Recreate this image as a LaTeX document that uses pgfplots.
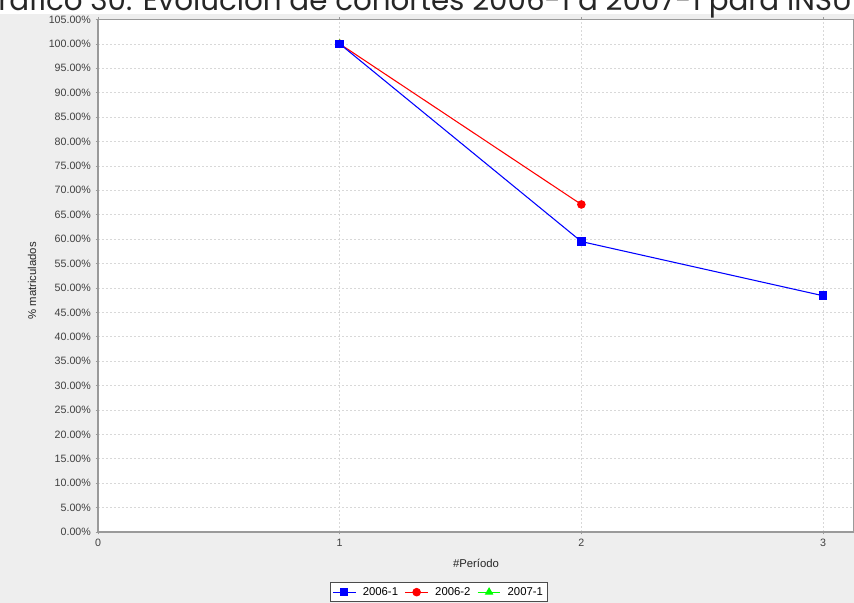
\documentclass[border=0pt]{standalone}
\usepackage{pgfplots}
\pgfplotsset{compat=1.18}
\usepackage{fontspec}
\setmainfont{Liberation Sans}
\newfontfamily\titlefont{Poppins}
\definecolor{bgray}{HTML}{EEEEEE}
\definecolor{gridc}{HTML}{D8D8D8}
\definecolor{axc}{HTML}{9A9A9A}
\definecolor{tickc}{HTML}{404040}
\begin{document}
\begin{tikzpicture}
% 1px = 0.75pt, page 854x603 px
\fill[bgray] (0,0) rectangle (640.5pt,441.75pt);
\fill[white] (0,441.75pt) rectangle (640.5pt,452.25pt);
\node[anchor=base west, inner sep=0pt, font=\titlefont\fontsize{22}{24}\selectfont, text=black!85]
  at (-18.5pt,444pt) {Gráfico 30. Evolución de cohortes 2006-1 a 2007-1 para INSU};
\begin{axis}[
    at={(73.5pt,53.25pt)}, anchor=south west,
    scale only axis, width=567pt, height=384.4pt,
    xmin=0, xmax=3.128, ymin=0, ymax=105,
    xtick={0,1,2,3}, ytick={0,5,...,105},
    /pgf/number format/assume math mode=true,
    yticklabel={\pgfmathprintnumber[fixed,fixed zerofill,precision=2]{\tick}\%},
    tick label style={font=\fontsize{8}{9}\selectfont, text=tickc},
    tick align=outside, major tick length=1.8pt,
    tick style={axc, line width=0.5pt},
    axis line style={axc, line width=0.9pt},
    axis background/.style={fill=white},
    xmajorgrids, ymajorgrids,
    grid style={gridc, line width=0.5pt, dash pattern=on 1.5pt off 1.5pt},
    xlabel={\#Período}, ylabel={\% matriculados},
    label style={font=\fontsize{8.5}{10}\selectfont, text=black!85},
    xlabel style={at={(axis description cs:0.5,-0.0605)}, anchor=center},
    ylabel style={at={(axis description cs:-0.0873,0.49)}, anchor=center},
    legend columns=-1,
    legend style={at={(axis description cs:0.451,-0.0976)}, anchor=north,
        draw=black!70, line width=0.8pt, fill=white, font=\fontsize{8.5}{10}\selectfont,
        inner sep=1.5pt, column sep=3pt, /tikz/every even column/.append style={column sep=3pt}},
    clip=false,
]
\addplot[green, line width=0.8pt, mark=triangle*, mark size=3pt, forget plot] coordinates {(1,100)};
\addplot[red, line width=0.8pt, mark=*, mark size=2.8pt, forget plot] coordinates {(1,100) (2,67.1)};
\addplot[blue, line width=0.8pt, mark=square*, mark size=2.8pt, forget plot] coordinates {(1,100) (2,59.5) (3,48.4)};
\addlegendimage{blue, line width=0.8pt, mark=square*, mark size=2.8pt}
\addlegendimage{red, line width=0.8pt, mark=*, mark size=2.8pt}
\addlegendimage{green, line width=0.8pt, mark=triangle*, mark size=3pt}
\legend{2006-1,2006-2,2007-1}
\end{axis}
\pgfresetboundingbox
\path[use as bounding box] (0,0) rectangle (640.5pt,452.25pt);
\end{tikzpicture}
\end{document}
